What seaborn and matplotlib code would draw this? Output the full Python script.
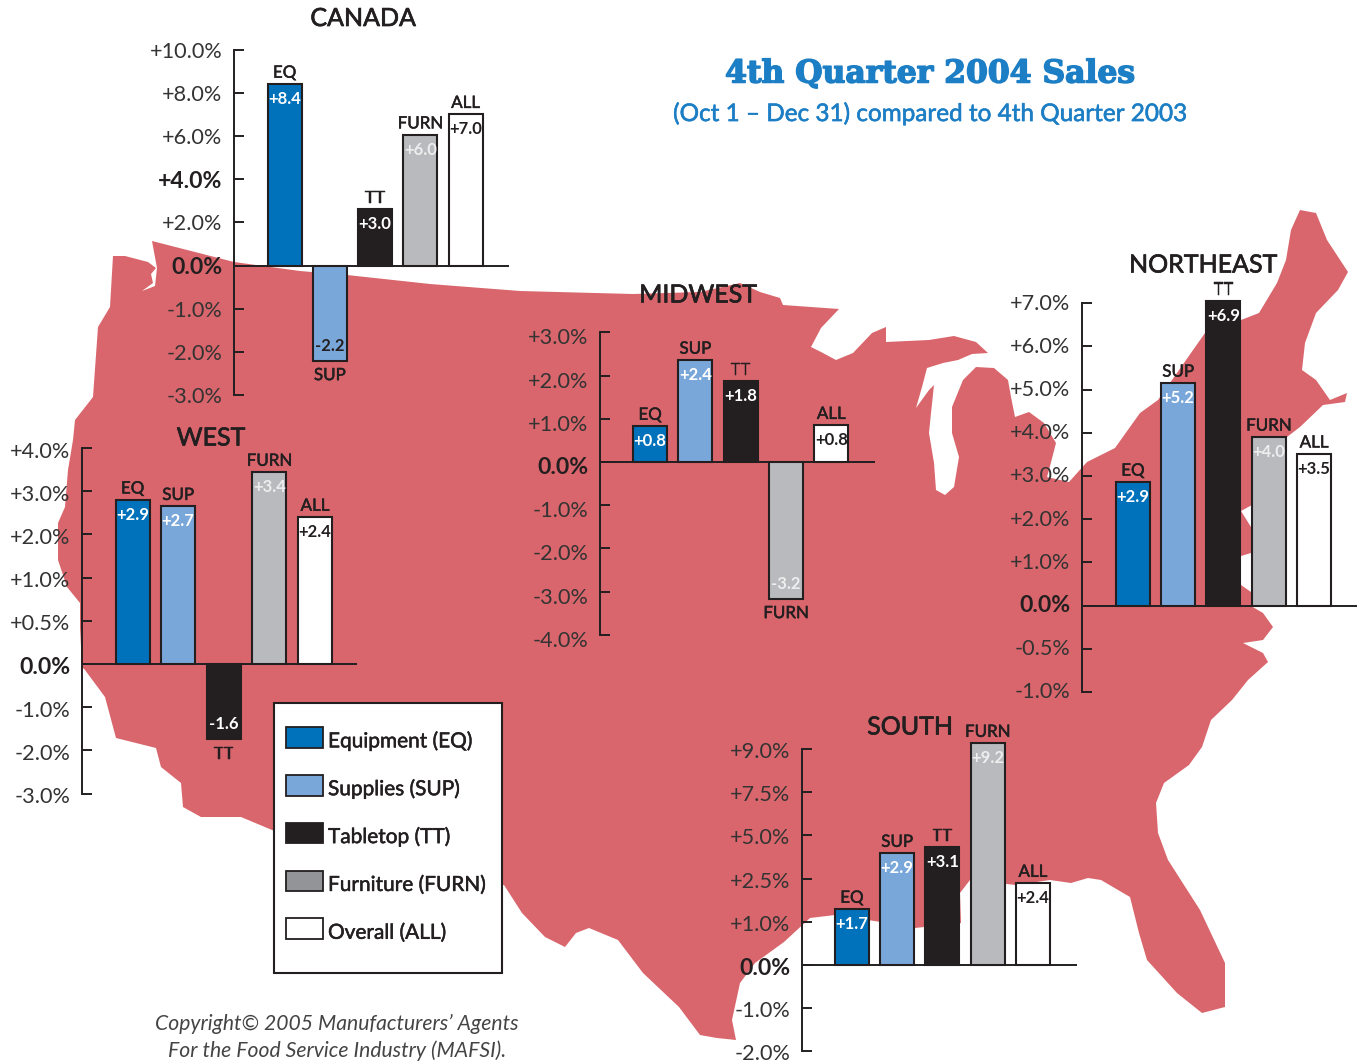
import numpy as np
import pandas as pd
import matplotlib
matplotlib.use("Agg")
import matplotlib.pyplot as plt
import matplotlib.ticker as mticker
import matplotlib.patheffects as pe
from matplotlib.patches import Polygon, Rectangle, Patch
from matplotlib.transforms import ScaledTranslation
import seaborn as sns

W, H = 1362, 1063
FONT = "Lato"
DARK = "#231f20"
BLUE = "#1c7ec4"
MAP = "#d9666c"

categories = ["EQ", "SUP", "TT", "FURN", "ALL"]
legend_labels = ["Equipment (EQ)", "Supplies (SUP)", "Tabletop (TT)", "Furniture (FURN)", "Overall (ALL)"]
bar_colors = ["#0072bc", "#7aa7d9", "#231f20", "#b8babd", "#ffffff"]
legend_colors = ["#0072bc", "#7aa7d9", "#231f20", "#929497", "#ffffff"]

canada_ticks = [-3, -2, -1, 0, 2, 4, 6, 8, 10]
canada_heights = [8.4, -2.2, 2.6, 6.05, 7.0]
canada_labels = ["+8.4", "-2.2", "+3.0", "+6.0", "+7.0"]

west_ticks = [-3, -2, -1, 0, 0.5, 1, 2, 3, 4]
west_heights = [2.8, 2.65, -1.74, 3.44, 2.4]
west_labels = ["+2.9", "+2.7", "-1.6", "+3.4", "+2.4"]

midwest_ticks = [-4, -3, -2, -1, 0, 1, 2, 3]
midwest_heights = [0.83, 2.36, 1.87, -3.16, 0.85]
midwest_labels = ["+0.8", "+2.4", "+1.8", "-3.2", "+0.8"]

northeast_ticks = [-1, -0.5, 0, 1, 2, 3, 4, 5, 6, 7]
northeast_heights = [2.86, 5.15, 7.05, 3.9, 3.51]
northeast_labels = ["+2.9", "+5.2", "+6.9", "+4.0", "+3.5"]

south_ticks = [-2, -1, 0, 1, 2.5, 5, 7.5, 9]
south_heights = [1.44, 3.97, 4.3, 9.2, 2.34]
south_labels = ["+1.7", "+2.9", "+3.1", "+9.2", "+2.4"]

# outline of the background map, in image pixels
map_outline = [
    (113, 256), (125, 256), (148, 262), (156, 268), (151, 274), (153, 283), (142, 291), (155, 286), (157, 268), (152, 241),
    (234, 262), (300, 271), (347, 275), (430, 284), (520, 291), (633, 294), (700, 292), (740, 283), (760, 292), (780, 298),
    (783, 305), (839, 309), (821, 328), (811, 347), (821, 352), (836, 360), (853, 353), (872, 333), (886, 327), (886, 342),
    (929, 340), (954, 336), (976, 342), (988, 353), (972, 354), (958, 360), (943, 363), (927, 368), (922, 387), (916, 408),
    (929, 390), (934, 385), (931, 413), (929, 433), (934, 463), (936, 490), (945, 495), (954, 487), (959, 457), (952, 433),
    (952, 407), (963, 380), (976, 367), (994, 368), (1008, 380), (1011, 397), (1015, 417), (1029, 412), (1044, 423),
    (1056, 443), (1049, 470), (1047, 477), (1069, 482), (1087, 462), (1115, 448), (1130, 427), (1140, 413), (1158, 400),
    (1205, 333), (1241, 320), (1259, 313), (1277, 283), (1286, 260), (1291, 230), (1300, 210), (1316, 213), (1327, 240),
    (1348, 272), (1338, 290), (1316, 313), (1305, 343), (1302, 370), (1316, 380), (1330, 400), (1347, 393), (1345, 402),
    (1323, 405), (1300, 427), (1287, 437), (1270, 470), (1252, 505), (1241, 511), (1251, 527), (1251, 553), (1241, 556),
    (1241, 585), (1251, 592), (1251, 606), (1263, 613), (1273, 627), (1263, 640), (1243, 643), (1263, 653), (1268, 662),
    (1248, 680), (1232, 700), (1211, 720), (1202, 747), (1189, 765), (1164, 783), (1156, 803), (1158, 833), (1168, 860),
    (1200, 910), (1225, 963), (1225, 1007), (1202, 1013), (1177, 993), (1147, 960), (1139, 933), (1130, 897), (1101, 880),
    (1088, 878), (1071, 883), (1050, 880), (1016, 885), (970, 880), (960, 893), (961, 923), (915, 928), (881, 922),
    (835, 915), (810, 918), (784, 942), (755, 963), (740, 983), (732, 1020), (736, 1040), (717, 1038), (700, 1035),
    (679, 1007), (643, 973), (618, 940), (589, 928), (576, 933), (565, 947), (545, 937), (522, 913), (504, 885),
    (400, 880), (272, 830), (241, 817), (201, 817), (183, 807), (181, 783), (161, 767), (156, 748), (116, 738), (105, 697),
    (85, 670), (82, 667), (80, 627), (80, 603), (67, 587), (58, 560), (58, 523), (65, 507), (68, 470), (73, 440),
    (75, 420), (93, 397), (98, 327), (110, 307),
]

sns.set_theme(style="white")
plt.rcParams["font.family"] = [FONT, "DejaVu Sans"]
plt.rcParams["text.color"] = DARK
plt.rcParams["axes.labelcolor"] = DARK

fig = plt.figure(figsize=(W / 100, H / 100), dpi=100, facecolor="white")
bg = fig.add_axes([0, 0, 1, 1], zorder=0)
bg.set_xlim(0, W)
bg.set_ylim(H, 0)
bg.axis("off")
bg.add_patch(Polygon(map_outline, closed=True, facecolor=MAP, edgecolor="none"))

STEP = 43.2


def heavy(width, color=DARK):
    return [pe.withStroke(linewidth=width, foreground=color)]


def make_scale(ticks):
    t = np.asarray(ticks, float)
    idx = np.arange(len(t), dtype=float)
    t2 = np.r_[t[0] - 100 * (t[1] - t[0]), t, t[-1] + 100 * (t[-1] - t[-2])]
    i2 = np.r_[idx[0] - 100, idx, idx[-1] + 100]
    fwd = lambda v: np.interp(v, t2, i2)
    inv = lambda p: np.interp(p, i2, t2)
    return fwd, inv


def panel(title, title_xy, ticks, heights, labels, axis_x, right_x, zero_y, first_cx, spacing, bold=(0,), label_dy=0):
    ticks = list(ticks)
    fwd, inv = make_scale(ticks)
    n_above = len(ticks) - 1 - ticks.index(0)
    n_below = ticks.index(0)
    extra = 0.6
    top = zero_y - (n_above + extra) * STEP
    bottom = zero_y + n_below * STEP + 3
    ax = fig.add_axes([axis_x / W, 1 - bottom / H, (right_x - axis_x) / W, (bottom - top) / H], zorder=2)
    ax.patch.set_alpha(0)
    df = pd.DataFrame({"category": categories, "value": heights})
    sns.barplot(data=df, x="category", y="value", hue="category", order=categories, hue_order=categories,
                palette=bar_colors, saturation=1, dodge=False, width=34 / spacing, edgecolor=DARK, linewidth=1.5,
                legend=False, errorbar=None, ax=ax)
    ax.set_yscale("function", functions=(fwd, inv))
    ax.set_ylim(inv(-(bottom - zero_y) / STEP + n_below), inv(n_below + n_above + extra))
    ax.set_xlim((axis_x - first_cx) / spacing, (right_x - first_cx) / spacing)
    ax.set_xticks([])
    ax.set_xlabel("")
    ax.set_ylabel("")
    ax.yaxis.set_major_locator(mticker.FixedLocator(ticks))
    ax.yaxis.set_minor_locator(mticker.NullLocator())
    ax.yaxis.set_major_formatter(mticker.FixedFormatter([("0.0%" if t == 0 else f"{t:+.1f}%") for t in ticks]))
    ax.tick_params(axis="y", direction="in", length=7.5, width=1.4, color=DARK, pad=8.5, labelsize=15.6,
                   labelcolor="#333333", left=True)
    shift = ScaledTranslation(0, -label_dy / 100, fig.dpi_scale_trans)
    for lab, t in zip(ax.get_yticklabels(), ticks):
        lab.set_transform(lab.get_transform() + shift)
        if t in bold:
            lab.set_fontweight("bold")
            lab.set_fontsize(16.6)
            lab.set_color(DARK)
    for s in ("top", "right", "bottom"):
        ax.spines[s].set_visible(False)
    ax.spines["left"].set_color(DARK)
    ax.spines["left"].set_linewidth(1.4)
    ax.spines["left"].set_bounds(ticks[0], ticks[-1])
    ax.axhline(0, color=DARK, lw=1.4, zorder=5)
    for i, (cat, h, lab) in enumerate(zip(categories, heights, labels)):
        up = h >= 0
        ax.annotate(cat, (i, h), xytext=(0, 8.2 if up else -10.5), textcoords="offset points", ha="center", va="center",
                    fontsize=12.2, color=DARK, zorder=6, path_effects=heavy(0.35))
        if cat == "ALL" or (cat == "SUP" and not up):
            col = DARK
        elif cat == "FURN":
            col = "#eeeeee"
        else:
            col = "white"
        ax.annotate(lab, (i, h), xytext=(0, -10.8 if up else 10.8), textcoords="offset points", ha="center", va="center",
                    fontsize=12, color=col, fontweight="bold", zorder=6)
    bg.text(title_xy[0], title_xy[1], title, ha="center", va="center", fontsize=18, color=DARK, zorder=10,
            path_effects=heavy(0.5))
    return ax


panel("CANADA", (363, 18.5), canada_ticks, canada_heights, canada_labels, 234, 509, 265.5, 284.5, 45.25, bold=(0, 4))
panel("WEST", (211, 438), west_ticks, west_heights, west_labels, 82, 357, 664, 132.5, 45.6, label_dy=1.5)
panel("MIDWEST", (698, 295), midwest_ticks, midwest_heights, midwest_labels, 600, 875, 462, 650, 45.3, label_dy=4)
panel("NORTHEAST", (1203, 265), northeast_ticks, northeast_heights, northeast_labels, 1082, 1357, 605.5, 1132.8, 45.3, label_dy=-1.5)
panel("SOUTH", (910, 727), south_ticks, south_heights, south_labels, 802, 1077, 965, 851.8, 45.25, label_dy=1)

# titles
bg.text(930, 74, "4th Quarter 2004 Sales", ha="center", va="center", fontsize=22.6, fontweight="bold",
        family=["DejaVu Serif"], color=BLUE, path_effects=heavy(1.1, BLUE))
bg.text(930, 114, "(Oct 1 \u2013 Dec 31) compared to 4th Quarter 2003", ha="center", va="center", fontsize=17.5, color=BLUE,
        path_effects=heavy(0.4, BLUE))

# legend
bg.add_patch(Rectangle((273.5, 703), 228.5, 270, facecolor="white", edgecolor=DARK, lw=1.5, zorder=3))
handles = [Patch(facecolor=c, edgecolor=DARK, linewidth=1.3, label=l) for c, l in zip(legend_colors, legend_labels)]
leg = bg.legend(handles=handles, loc="upper left", bbox_to_anchor=(285.5 / W, 1 - 727 / H), bbox_transform=fig.transFigure,
                frameon=False, fontsize=15, handlelength=1.78, handleheight=1.15, handletextpad=0.26, labelspacing=1.27,
                borderpad=0, borderaxespad=0, labelcolor=DARK)
leg.set_zorder(4)
for t in leg.get_texts():
    t.set_position((0, -3))
    t.set_path_effects(heavy(0.35))

# credit
bg.text(337, 1024, "Copyright\u00a9 2005 Manufacturers\u2019 Agents", ha="center", va="center", fontsize=15.2, style="italic", color="#444444")
bg.text(337, 1051, "For the Food Service Industry (MAFSI).", ha="center", va="center", fontsize=15.2, style="italic", color="#444444")

fig.savefig("out.png", dpi=100, facecolor="white")
